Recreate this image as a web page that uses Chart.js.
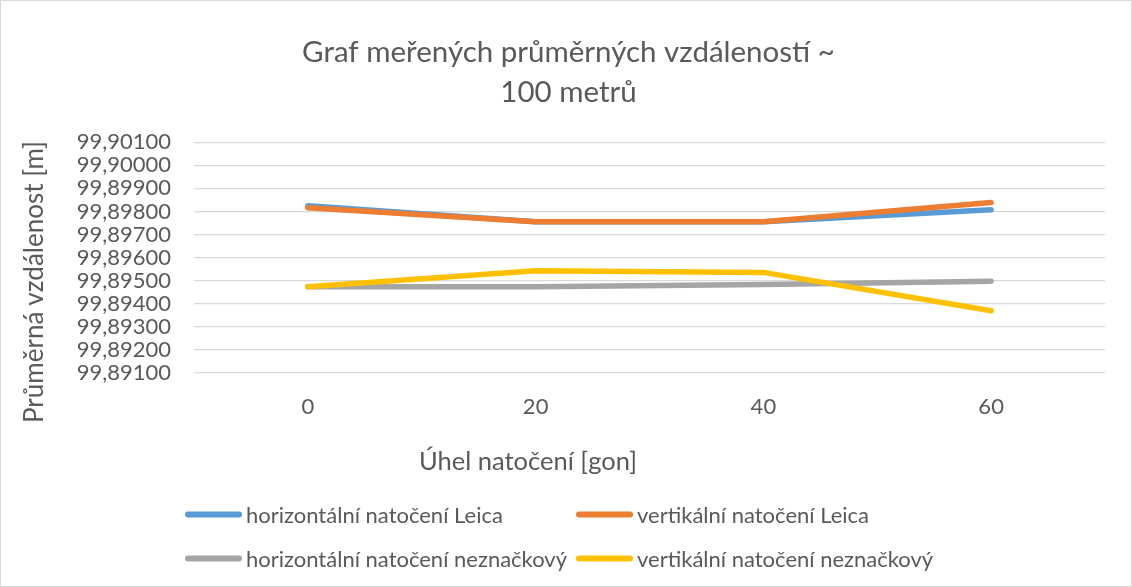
<!DOCTYPE html>
<html>
<head>
<meta charset="utf-8">
<script src="https://cdn.jsdelivr.net/npm/chart.js@4.4.1/dist/chart.umd.min.js"></script>
<style>
html, body { margin: 0; padding: 0; background: #fff; }
#wrap { position: relative; width: 1132px; height: 587px; overflow: hidden;
        font-family: Lato, "Open Sans", sans-serif; color: #595959; }
#chart { position: absolute; left: 0; top: 0; }
#frame { position: absolute; left: 0; top: 0; width: 1132px; height: 587px; box-sizing: border-box;
         border: 1px solid #d9d9d9; pointer-events: none; }
#xtitle { position: absolute; left: 528px; top: 460px; transform: translate(-50%, -50%);
          font-size: 25.5px; white-space: nowrap; }
#ytitle { position: absolute; left: 33px; top: 282px; transform: translate(-50%, -50%) rotate(-90deg);
          font-size: 26px; white-space: nowrap; }
.lg { position: absolute; display: flex; align-items: center; font-size: 22px; white-space: nowrap;
      transform: translateY(-50%); }
.lg .sw { width: 57px; height: 6px; border-radius: 3px; margin-right: 4px; }
</style>
</head>
<body>
<div id="wrap">
  <canvas id="chart" width="1132" height="587"></canvas>
  <div id="xtitle"></div>
  <div id="ytitle"></div>
  <div id="legend"></div>
  <div id="frame"></div>
</div>
<script>
// ---- data ----
const categories = ['0', '20', '40', '60'];
const seriesNames = [
  'horizontální natočení Leica',
  'vertikální natočení Leica',
  'horizontální natočení neznačkový',
  'vertikální natočení neznačkový'
];
const horizLeica = [99.89825, 99.89755, 99.89755, 99.89807];
const vertLeica  = [99.89816, 99.89755, 99.89755, 99.89839];
const horizNezn  = [99.89474, 99.89474, 99.89484, 99.89498];
const vertNezn   = [99.89474, 99.89543, 99.89536, 99.89370];
const yMin = 99.891, yMax = 99.901, yStep = 0.001;
const chartTitle = ['Graf meřených průměrných vzdáleností ~', '100 metrů'];
const xTitle = 'Úhel natočení [gon]';
const yTitle = 'Průměrná vzdálenost [m]';

// ---- styles ----
const colors = ['#5B9BD5', '#ED7D31', '#A5A5A5', '#FFC000'];
const seriesValues = [horizLeica, vertLeica, horizNezn, vertNezn];
const FONT = 'Lato, "Open Sans", sans-serif';
const TXT = '#595959';

const datasets = seriesValues.map((vals, i) => ({
  label: seriesNames[i],
  data: vals,
  borderColor: colors[i],
  backgroundColor: colors[i],
  borderWidth: 5.5,
  borderCapStyle: 'round',
  borderJoinStyle: 'round',
  pointRadius: 0,
  pointHoverRadius: 0,
  tension: 0,
  fill: false,
  order: seriesValues.length - i
}));

new Chart(document.getElementById('chart'), {
  type: 'line',
  data: { labels: categories, datasets },
  options: {
    responsive: false,
    animation: false,
    events: [],
    layout: { padding: { left: 32, right: 27, top: 0, bottom: 0 } },
    plugins: {
      legend: { display: false },
      tooltip: { enabled: false },
      title: {
        display: true,
        text: chartTitle,
        color: TXT,
        font: { family: FONT, size: 29.5, weight: 'normal', lineHeight: 1.36 },
        padding: { top: 32, bottom: 30 }
      }
    },
    scales: {
      x: {
        type: 'category',
        offset: true,
        grid: { display: false, drawTicks: false },
        border: { display: false },
        ticks: { color: TXT, font: { family: FONT, size: 22 }, padding: 21 },
        afterFit: (s) => { s.height = 214; }
      },
      y: {
        min: yMin,
        max: yMax,
        grid: { color: '#D9D9D9', lineWidth: 1.3, drawTicks: false },
        border: { display: false },
        ticks: {
          stepSize: yStep,
          autoSkip: false,
          color: TXT,
          padding: 23,
          font: { family: FONT, size: 22 },
          callback: (v) => Number(v).toFixed(5).replace('.', ',')
        },
        afterFit: (s) => { s.width = 162; }
      }
    }
  }
});

document.getElementById('xtitle').textContent = xTitle;
document.getElementById('ytitle').textContent = yTitle;

// HTML legend in a 2x2 layout
const legendPos = [[185, 514], [576, 514], [185, 558], [576, 558]];
const lg = document.getElementById('legend');
seriesNames.forEach((name, i) => {
  const d = document.createElement('div');
  d.className = 'lg';
  d.style.left = legendPos[i][0] + 'px';
  d.style.top = legendPos[i][1] + 'px';
  const sw = document.createElement('span');
  sw.className = 'sw';
  sw.style.background = colors[i];
  const t = document.createElement('span');
  t.textContent = name;
  d.appendChild(sw);
  d.appendChild(t);
  lg.appendChild(d);
});
</script>
</body>
</html>
